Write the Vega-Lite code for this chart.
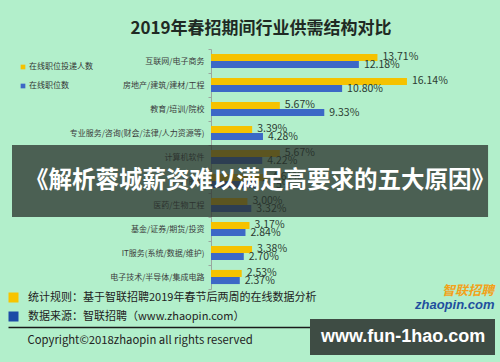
{
  "$schema": "https://vega.github.io/schema/vega-lite/v6.json",
  "width": 482,
  "height": 240,
  "autosize": "none",
  "padding": {"left": 8, "top": 49, "right": 10, "bottom": 73},
  "background": "#b2efcb",
  "config": {"view": {"stroke": null}, "font": "Noto Sans CJK SC"},
  "title": {"text": "2019年春招期间行业供需结构对比", "fontSize": 17, "fontWeight": "bold", "color": "#1f2a24", "anchor": "middle", "frame": "group", "dx": 12, "dy": 20, "offset": 14, "baseline": "alphabetic", "font": "Noto Sans CJK SC"},
  "datasets": {
    "bars": [
      {"industry": "互联网/电子商务", "series": "在线职位投递人数", "value": 0.1371},
      {"industry": "互联网/电子商务", "series": "在线职位数", "value": 0.1218},
      {"industry": "房地产/建筑/建材/工程", "series": "在线职位投递人数", "value": 0.1614},
      {"industry": "房地产/建筑/建材/工程", "series": "在线职位数", "value": 0.1080},
      {"industry": "教育/培训/院校", "series": "在线职位投递人数", "value": 0.0567},
      {"industry": "教育/培训/院校", "series": "在线职位数", "value": 0.0933},
      {"industry": "专业服务/咨询(财会/法律/人力资源等)", "series": "在线职位投递人数", "value": 0.0339},
      {"industry": "专业服务/咨询(财会/法律/人力资源等)", "series": "在线职位数", "value": 0.0428},
      {"industry": "计算机软件", "series": "在线职位投递人数", "value": 0.0567},
      {"industry": "计算机软件", "series": "在线职位数", "value": 0.0422},
      {"industry": "中介服务", "series": "在线职位投递人数", "value": 0.0461},
      {"industry": "中介服务", "series": "在线职位数", "value": 0.0375},
      {"industry": "医药/生物工程", "series": "在线职位投递人数", "value": 0.0300},
      {"industry": "医药/生物工程", "series": "在线职位数", "value": 0.0332},
      {"industry": "基金/证券/期货/投资", "series": "在线职位投递人数", "value": 0.0317},
      {"industry": "基金/证券/期货/投资", "series": "在线职位数", "value": 0.0284},
      {"industry": "IT服务(系统/数据/维护)", "series": "在线职位投递人数", "value": 0.0338},
      {"industry": "IT服务(系统/数据/维护)", "series": "在线职位数", "value": 0.0270},
      {"industry": "电子技术/半导体/集成电路", "series": "在线职位投递人数", "value": 0.0253},
      {"industry": "电子技术/半导体/集成电路", "series": "在线职位数", "value": 0.0237}
    ]
  },
  "layer": [
    {
      "data": {"name": "bars"},
      "mark": {"type": "bar"},
      "encoding": {
        "y": {"field": "industry", "type": "nominal",
          "scale": {"domain": ["互联网/电子商务", "房地产/建筑/建材/工程", "教育/培训/院校", "专业服务/咨询(财会/法律/人力资源等)", "计算机软件", "中介服务", "医药/生物工程", "基金/证券/期货/投资", "IT服务(系统/数据/维护)", "电子技术/半导体/集成电路"], "paddingInner": 0, "paddingOuter": 0},
          "axis": {"title": null, "offset": -203, "domainColor": "#9aa79f", "tickColor": "#9aa79f", "tickSize": 3, "tickBand": "extent", "labelFontSize": 8, "labelColor": "#3b3b3b", "labelPadding": 4, "labelLimit": 300}},
        "yOffset": {"field": "series", "type": "nominal", "scale": {"domain": ["在线职位投递人数", "在线职位数"], "paddingOuter": 0.7, "paddingInner": 0}},
        "x": {"field": "value", "type": "quantitative", "scale": {"domain": [-0.1672, 0.2298], "nice": false, "zero": false},
          "axis": {"orient": "bottom", "offset": 38, "domainColor": "#1a1a1a", "domainWidth": 1.5, "ticks": false, "labels": false, "grid": false, "title": "Copyright©2018zhaopin all rights reserved", "titleAnchor": "start", "titleAlign": "left", "titleX": 19, "titleY": 16, "titleBaseline": "alphabetic", "titleFontSize": 11.3, "titleFontWeight": "normal", "titleColor": "#222"}},
        "color": {"field": "series", "type": "nominal", "scale": {"domain": ["在线职位投递人数", "在线职位数"], "range": ["#f5c200", "#3c68c6"]},
          "legend": {"orient": "none", "legendX": 11, "legendY": 14, "title": null, "symbolType": "square", "symbolSize": 22, "labelFontSize": 8, "labelColor": "#333", "labelOffset": 2, "rowPadding": 11, "padding": 0}}
      }
    },
    {
      "data": {"name": "bars"},
      "mark": {"type": "text", "align": "left", "baseline": "middle", "dx": 5, "fontSize": 10.5, "color": "#2b3a31"},
      "encoding": {
        "y": {"field": "industry", "type": "nominal"},
        "yOffset": {"field": "series", "type": "nominal"},
        "x": {"field": "value", "type": "quantitative"},
        "text": {"field": "value", "format": ".2%"}
      }
    },
    {
      "data": {"values": [{"banner": "《解析蓉城薪资难以满足高要求的五大原因》"}]},
      "layer": [
        {
          "mark": {"type": "bar", "color": "#28302b", "opacity": 0.75, "height": {"band": 3}},
          "encoding": {"y": {"datum": "中介服务"}, "x": {"datum": -0.1639}, "x2": {"datum": 0.2282}}
        },
        {
          "mark": {"type": "text", "color": "white", "fontSize": 23.5, "fontWeight": "bold", "baseline": "middle", "align": "center"},
          "encoding": {"y": {"datum": "中介服务"}, "x": {"datum": 0.0404}, "text": {"field": "banner"}}
        }
      ]
    },
    {
      "data": {"values": [{"note": "统计规则：基于智联招聘2019年春节后两周的在线数据分析"}, {"note": "数据来源：智联招聘（www.zhaopin.com）"}]},
      "mark": {"type": "point", "opacity": 0, "filled": true},
      "encoding": {
        "fill": {"field": "note", "type": "nominal",
          "scale": {"domain": ["统计规则：基于智联招聘2019年春节后两周的在线数据分析", "数据来源：智联招聘（www.zhaopin.com）"], "range": ["#f7c400", "#1c4aa6"]},
          "legend": {"orient": "none", "legendX": 0, "legendY": 243, "title": null, "symbolType": "square", "symbolSize": 100, "symbolOpacity": 1, "symbolStrokeWidth": 0, "labelFontSize": 11, "labelColor": "#222", "labelOffset": 9, "rowPadding": 7, "padding": 0, "labelLimit": 400}}
      }
    },
    {
      "data": {"values": [{"wm": "www.fun-1hao.com"}]},
      "mark": {"type": "point", "opacity": 0},
      "encoding": {
        "shape": {"field": "wm", "type": "nominal",
          "legend": {"orient": "none", "legendX": 302, "legendY": 270, "title": null, "fillColor": "#3e4c44", "padding": 9, "symbolSize": 1, "symbolOpacity": 0, "symbolStrokeWidth": 0, "labelOffset": -16, "labelFontSize": 18, "labelFont": "Liberation Sans", "labelFontWeight": "bold", "labelColor": "white", "labelLimit": 300}}
      }
    },
    {
      "data": {"values": [{"logo": "zhaopin.com"}]},
      "mark": {"type": "point", "opacity": 0},
      "encoding": {
        "strokeDash": {"field": "logo", "type": "nominal",
          "legend": {"orient": "none", "legendX": 408, "legendY": 236, "title": "智联招聘", "titleFontSize": 13, "titleColor": "#f2a21a", "titleFontStyle": "italic", "titleFontWeight": "bold", "titleAnchor": "end", "titlePadding": 0, "symbolSize": 1, "symbolOpacity": 0, "symbolStrokeWidth": 0, "labelOffset": -14, "labelFontSize": 13, "labelFont": "Liberation Sans", "labelFontStyle": "italic", "labelFontWeight": "bold", "labelColor": "#1f4f9e", "padding": 0}}
      }
    }
  ]
}
